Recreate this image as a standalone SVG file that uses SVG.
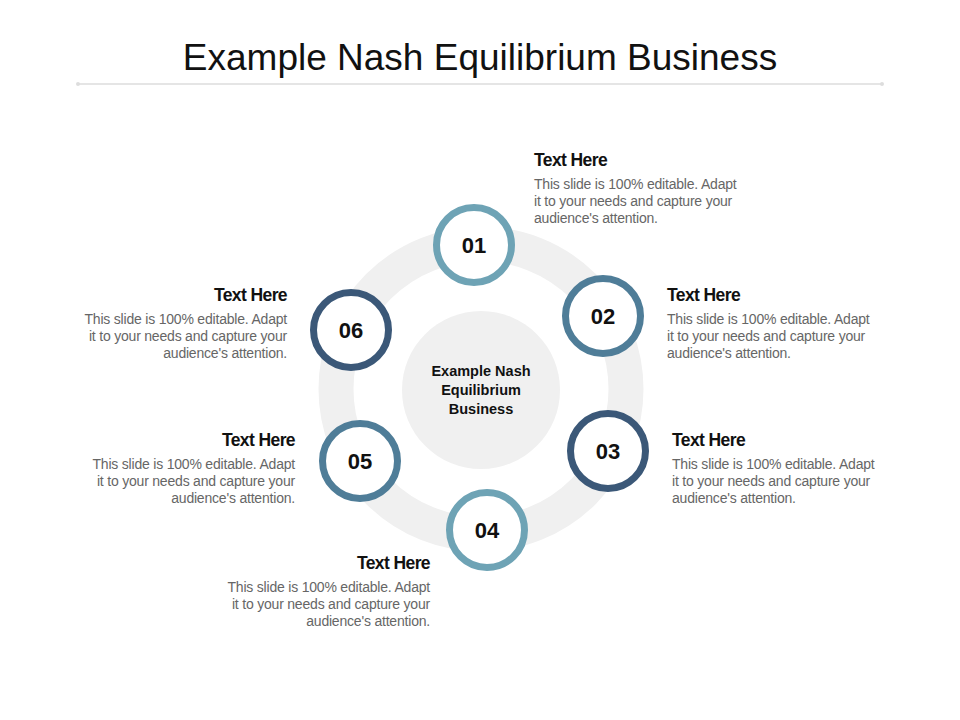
<svg xmlns="http://www.w3.org/2000/svg" width="960" height="720" viewBox="0 0 960 720">
<style>
text{font-family:"Liberation Sans",Arial,sans-serif}
.num{font-size:22px;font-weight:bold;fill:#111;text-anchor:middle}
.h{font-size:17.5px;font-weight:bold;fill:#111;letter-spacing:-0.6px}
.b{font-size:14px;fill:#666;letter-spacing:-0.2px}
.c{fill:#fff;stroke-width:7}
.l{stroke:#6ea3b5}.m{stroke:#4f7d98}.d{stroke:#3b5878}
</style>
<rect width="960" height="720" fill="#fff"/>
<text x="480" y="70" font-size="37" text-anchor="middle" fill="#111">Example Nash Equilibrium Business</text>
<line x1="78" y1="84" x2="882" y2="84" stroke="#ddd" stroke-width="1.5"/>
<circle cx="78" cy="84" r="2" fill="#ddd"/><circle cx="882" cy="84" r="2" fill="#ddd"/>
<g id="center">
<circle cx="481" cy="389" r="145" fill="none" stroke="#f0f0f0" stroke-width="35"/>
<circle cx="481" cy="390" r="79" fill="#f0f0f0"/>
<text x="481" y="376" font-size="14.5" font-weight="bold" text-anchor="middle" fill="#111">Example Nash</text>
<text x="481" y="395" font-size="14.5" font-weight="bold" text-anchor="middle" fill="#111">Equilibrium</text>
<text x="481" y="414" font-size="14.5" font-weight="bold" text-anchor="middle" fill="#111">Business</text>
</g>
<g id="connectors"/>
<g id="n1"><circle class="c l" cx="474" cy="245" r="37.5"/><text class="num" x="474" y="253">01</text>
<text class="h" x="534" y="166">Text Here</text>
<text class="b" x="534" y="189">This slide is 100% editable. Adapt</text><text class="b" x="534" y="206">it to your needs and capture your</text><text class="b" x="534" y="223">audience's attention.</text></g>
<g id="n2"><circle class="c m" cx="603" cy="316" r="37.5"/><text class="num" x="603" y="324">02</text>
<text class="h" x="667" y="301">Text Here</text>
<text class="b" x="667" y="324">This slide is 100% editable. Adapt</text><text class="b" x="667" y="341">it to your needs and capture your</text><text class="b" x="667" y="358">audience's attention.</text></g>
<g id="n3"><circle class="c d" cx="608" cy="451" r="37.5"/><text class="num" x="608" y="459">03</text>
<text class="h" x="672" y="446">Text Here</text>
<text class="b" x="672" y="469">This slide is 100% editable. Adapt</text><text class="b" x="672" y="486">it to your needs and capture your</text><text class="b" x="672" y="503">audience's attention.</text></g>
<g id="n4"><circle class="c l" cx="487" cy="530" r="37.5"/><text class="num" x="487" y="538">04</text>
<g text-anchor="end"><text class="h" x="430" y="569">Text Here</text>
<text class="b" x="430" y="592">This slide is 100% editable. Adapt</text><text class="b" x="430" y="609">it to your needs and capture your</text><text class="b" x="430" y="626">audience's attention.</text></g></g>
<g id="n5"><circle class="c m" cx="360" cy="461" r="37.5"/><text class="num" x="360" y="469">05</text>
<g text-anchor="end"><text class="h" x="295" y="446">Text Here</text>
<text class="b" x="295" y="469">This slide is 100% editable. Adapt</text><text class="b" x="295" y="486">it to your needs and capture your</text><text class="b" x="295" y="503">audience's attention.</text></g></g>
<g id="n6"><circle class="c d" cx="351" cy="330" r="37.5"/><text class="num" x="351" y="338">06</text>
<g text-anchor="end"><text class="h" x="287" y="301">Text Here</text>
<text class="b" x="287" y="324">This slide is 100% editable. Adapt</text><text class="b" x="287" y="341">it to your needs and capture your</text><text class="b" x="287" y="358">audience's attention.</text></g></g>
</svg>
